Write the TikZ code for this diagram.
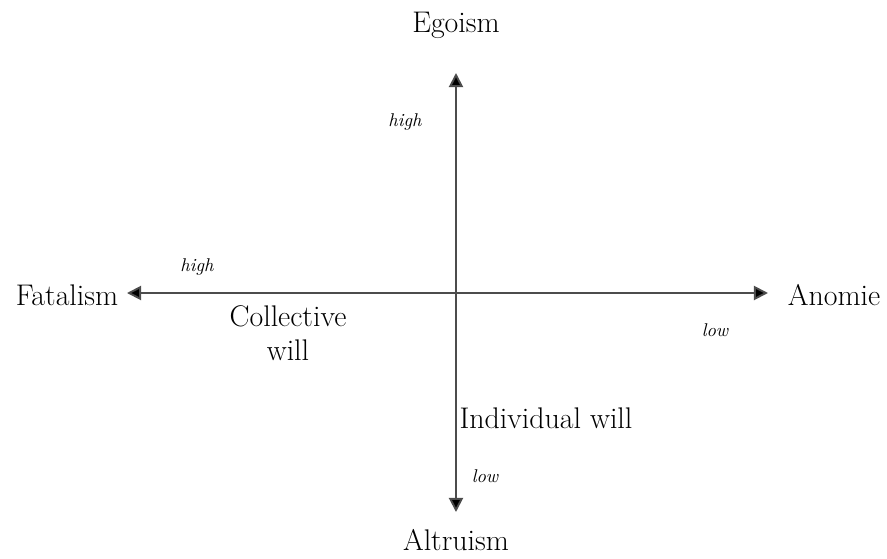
\documentclass[tikz,border=0pt]{standalone}
\usetikzlibrary{arrows.meta}
\begin{document}
\begin{tikzpicture}[
  lbl/.style={font=\fontsize{17}{19}\selectfont},
  tag/.style={font=\fontsize{10.5}{12}\selectfont\itshape},
  axis/.style={line width=1.1pt,black!70,-{Triangle[length=8pt,width=8pt,fill=black]}}]
  \useasboundingbox (-9.12,-5.30) rectangle (8.62,5.86);
  \coordinate (o) at (0,0);
  \coordinate (top) at (0,4.40);
  \coordinate (bot) at (0,-4.38);
  \coordinate (lft) at (-6.58,0);
  \coordinate (rgt) at (6.24,0);
  \draw[axis] (o) -- (top);
  \draw[axis] (o) -- (bot);
  \draw[axis] (o) -- (lft);
  \draw[axis] (o) -- (rgt);
  \node[lbl] (ego) at (0,5.36) {Egoism};
  \node[lbl] (alt) at (0,-4.94) {Altruism};
  \node[lbl] (fat) at (-7.78,-0.04) {Fatalism};
  \node[lbl] (ano) at (7.56,-0.04) {Anomie};
  \node[tag] (hiv) at (-1.02,3.42) {high};
  \node[tag] (hih) at (-5.18,0.52) {high};
  \node[tag] (loh) at (5.18,-0.74) {low};
  \node[tag] (lov) at (0.58,-3.66) {low};
  \node[lbl,align=center] (coll) at (-3.36,-0.80) {Collective\\will};
  \node[lbl] (indiv) at (1.80,-2.50) {Individual will};
\end{tikzpicture}
\end{document}
